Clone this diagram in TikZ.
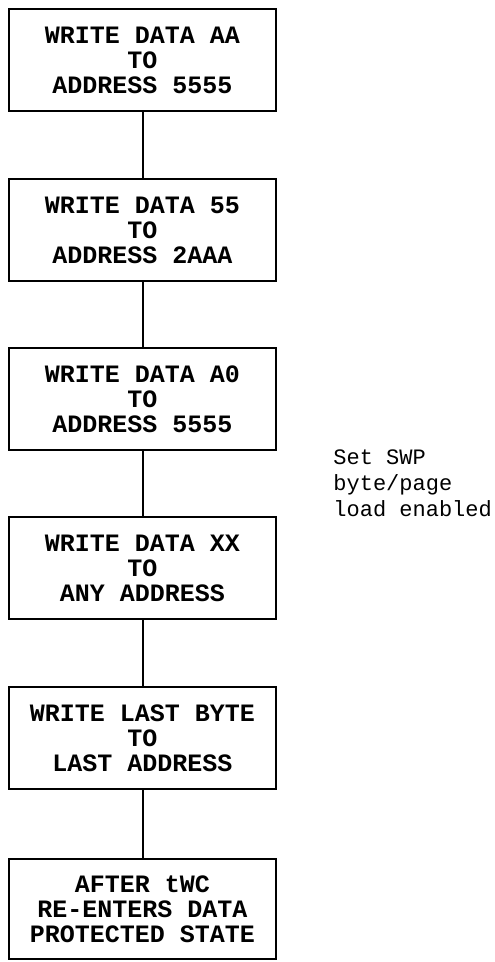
\documentclass[tikz,border=0pt]{standalone}
\usepackage{fontspec}
\setmonofont{Liberation Mono}
\begin{document}
\begin{tikzpicture}[x=0.5pt,y=-0.5pt]
\tikzstyle{stepbox}=[draw,line width=1.3pt,minimum width=133.5pt,minimum height=51pt,inner sep=0pt,align=center,font=\ttfamily\bfseries\fontsize{12.5}{12.5}\selectfont]
\tikzstyle{link}=[line width=1pt]
\useasboundingbox (0,0) rectangle (494,962);
\path (142.5,60) node[stepbox](s1){WRITE DATA AA\\TO\\ADDRESS 5555};
\path (142.5,230) node[stepbox](s2){WRITE DATA 55\\TO\\ADDRESS 2AAA};
\path (142.5,399) node[stepbox](s3){WRITE DATA A0\\TO\\ADDRESS 5555};
\path (142.5,568) node[stepbox](s4){WRITE DATA XX\\TO\\ANY ADDRESS};
\path (142.5,738) node[stepbox](s5){WRITE LAST BYTE\\TO\\LAST ADDRESS};
\path (142.5,909) node[stepbox,minimum height=50pt](s6){AFTER tWC\\RE-ENTERS DATA\\PROTECTED STATE};
\draw[link] (s1) -- (s2);
\draw[link] (s2) -- (s3);
\draw[link] (s3) -- (s4);
\draw[link] (s4) -- (s5);
\draw[link] (s5) -- (s6);
\path (333,483) node[anchor=west,align=left,inner sep=0pt,font=\ttfamily\fontsize{11}{13}\selectfont](note){Set SWP\\byte/page\\load enabled};
\end{tikzpicture}
\end{document}
